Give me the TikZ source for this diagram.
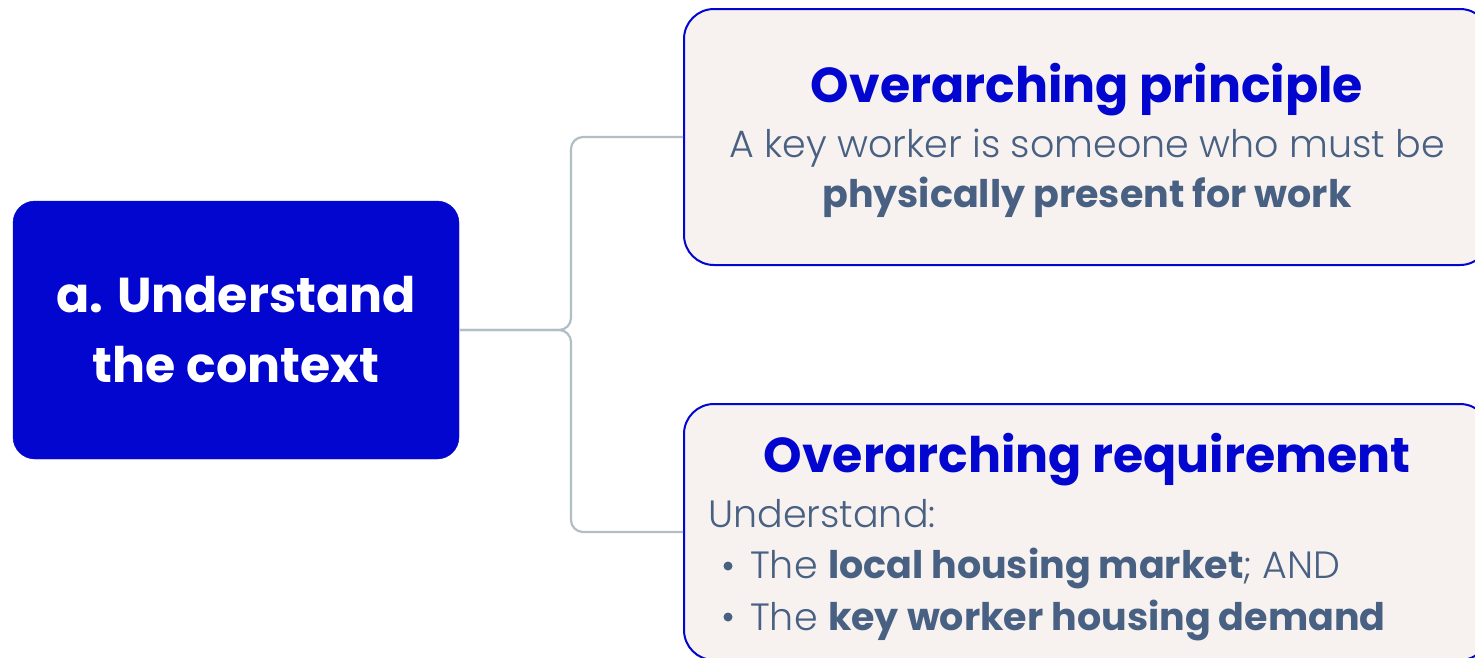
\documentclass[tikz,border=0pt]{standalone}
\usepackage{fontspec}
\setmainfont{Poppins}
\newfontfamily\lightfont{Poppins Light}
\definecolor{mainblue}{RGB}{2,6,206}
\definecolor{slate}{RGB}{72,96,130}
\definecolor{boxfill}{RGB}{247,242,240}
\definecolor{connc}{RGB}{178,190,198}
\tikzset{
  mainbox/.style={fill=mainblue, draw=mainblue, rounded corners=22, minimum width=446, minimum height=258, inner sep=0},
  leafbox/.style={fill=boxfill, draw=mainblue, line width=2, rounded corners=30, minimum width=806, minimum height=256, inner sep=0},
  conn/.style={draw=connc, line width=2.2, rounded corners=12},
  headtxt/.style={text=mainblue, font=\fontsize{49}{58}\selectfont\bfseries, inner sep=0, anchor=base},
  lefttxt/.style={text=white, font=\fontsize{49}{58}\selectfont\bfseries, inner sep=0, anchor=base},
  bodytxt/.style={text=slate, font=\fontsize{38}{51}\selectfont\lightfont, inner sep=0, anchor=base},
  boldtxt/.style={text=slate, font=\fontsize{38}{51}\selectfont\bfseries, inner sep=0, anchor=base},
  bulletdot/.style={circle, fill=slate, inner sep=0, minimum size=9},
}
\newcommand{\bft}[1]{{\fontspec{Poppins}\bfseries #1}}
\begin{document}
\begin{tikzpicture}[x=1pt,y=-1pt]
\useasboundingbox (0,0) rectangle (1475,657);
\clip (0,0) rectangle (1475,657);
\fill[white] (0,0) rectangle (1475,657);
\node[mainbox] (L) at (236,330) {};
\node[lefttxt] (Lt1) at (236,312) {a. Understand};
\node[lefttxt] (Lt2) at (236,382) {the context};
\node[leafbox] (T) at (1087,137) {};
\node[leafbox] (B) at (1087,532) {};
\draw[conn] (L.east) -| (571,200) |- (T.west);
\draw[conn] (L.east) -| (571,450) |- (B.west);
\node[headtxt] (th) at (1087,102) {Overarching principle};
\node[bodytxt] (tb1) at (1087,157) {A key worker is someone who must be};
\node[boldtxt] (tb2) at (1087,207) {physically present for work};
\node[headtxt] (bh) at (1087,472) {Overarching requirement};
\node[bodytxt, anchor=base west] (bu) at (708,527) {Understand:};
\node[bulletdot] (d1) at (728,566) {};
\node[bodytxt, anchor=base west] (b1) at (750,578) {The \bft{local housing market}; AND};
\node[bulletdot] (d2) at (728,617) {};
\node[bodytxt, anchor=base west] (b2) at (750,630) {The \bft{key worker housing demand}};
\end{tikzpicture}
\end{document}
